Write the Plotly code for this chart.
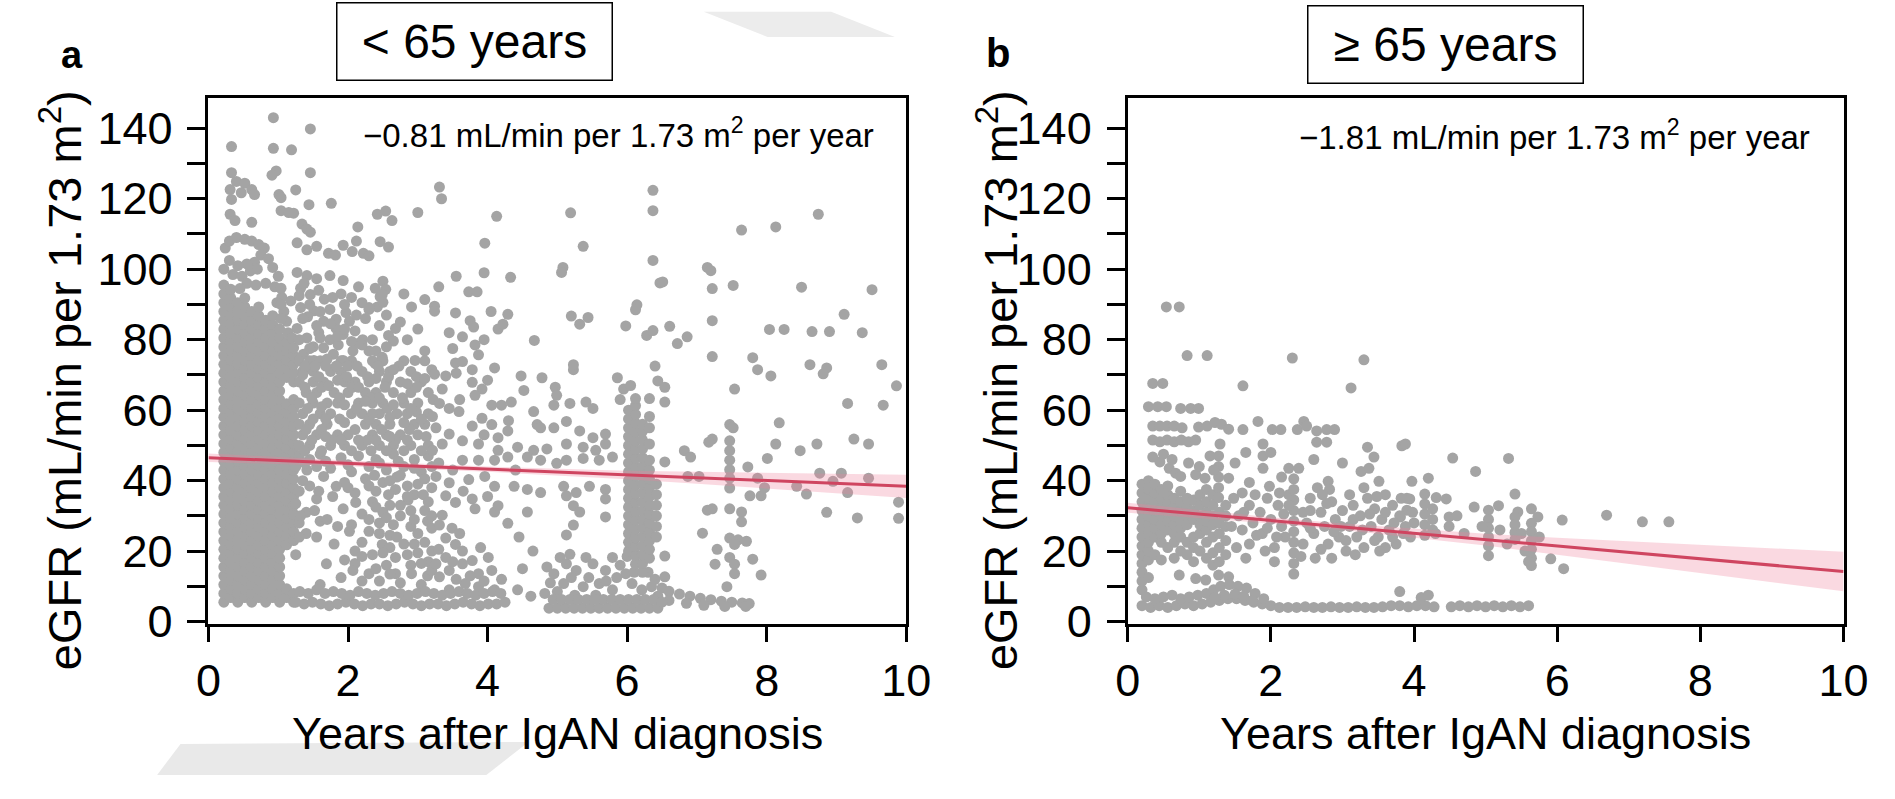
import plotly.graph_objects as go

W, H = 1895, 799

# ---------------- Panel a (< 65 years) ----------------
A_BLOCK_X = [0.22, 0.32, 0.42, 0.52, 0.62, 0.72, 0.82, 0.92, 1.02, 1.12, 1.22]
A_BLOCK_Y = [
    [5.5, 8, 10.5, 13, 15.5, 18, 20.5, 23, 25.5, 28, 30.5, 33, 35.5, 38, 40.5, 43, 45.5, 48, 50.5, 53, 55.5, 58, 60.5, 63, 65.5, 68, 70.5, 73, 75.5, 78, 80.5, 83, 85.5, 88, 90.5, 93, 95.5],
    [6.8, 9.3, 11.8, 14.3, 16.8, 19.3, 21.8, 24.3, 26.8, 29.3, 31.8, 34.3, 36.8, 39.3, 41.8, 44.3, 46.8, 49.3, 51.8, 54.3, 56.8, 59.3, 61.8, 64.3, 66.8, 69.3, 71.8, 74.3, 76.8, 79.3, 81.8, 84.3, 86.8, 89.3, 91.8, 94.3],
    [5.5, 8, 10.5, 13, 15.5, 18, 20.5, 23, 25.5, 28, 30.5, 33, 35.5, 38, 40.5, 43, 45.5, 48, 50.5, 53, 55.5, 58, 60.5, 63, 65.5, 68, 70.5, 73, 75.5, 78, 80.5, 83, 85.5, 88, 90.5],
    [6.8, 9.3, 11.8, 14.3, 16.8, 19.3, 21.8, 24.3, 26.8, 29.3, 31.8, 34.3, 36.8, 39.3, 41.8, 44.3, 46.8, 49.3, 51.8, 54.3, 56.8, 59.3, 61.8, 64.3, 66.8, 69.3, 71.8, 74.3, 76.8, 79.3, 81.8, 84.3, 86.8, 89.3, 91.8],
    [5.5, 8, 10.5, 13, 15.5, 18, 20.5, 23, 25.5, 28, 30.5, 33, 35.5, 38, 40.5, 43, 45.5, 48, 50.5, 53, 55.5, 58, 60.5, 63, 65.5, 68, 70.5, 73, 75.5, 78, 80.5, 83, 85.5, 88],
    [6.8, 9.3, 11.8, 14.3, 16.8, 19.3, 21.8, 24.3, 26.8, 29.3, 31.8, 34.3, 36.8, 39.3, 41.8, 44.3, 46.8, 49.3, 51.8, 54.3, 56.8, 59.3, 61.8, 64.3, 66.8, 69.3, 71.8, 74.3, 76.8, 79.3, 81.8, 84.3, 86.8, 89.3],
    [5.5, 8, 10.5, 13, 15.5, 18, 20.5, 23, 25.5, 28, 30.5, 33, 35.5, 38, 40.5, 43, 45.5, 48, 50.5, 53, 55.5, 58, 60.5, 63, 65.5, 68, 70.5, 73, 75.5, 78, 80.5, 83, 85.5],
    [6.8, 9.3, 11.8, 14.3, 16.8, 19.3, 21.8, 24.3, 26.8, 29.3, 31.8, 34.3, 36.8, 39.3, 41.8, 44.3, 46.8, 49.3, 51.8, 54.3, 56.8, 59.3, 61.8, 64.3, 66.8, 69.3, 71.8, 74.3, 76.8, 79.3, 81.8, 84.3, 86.8],
    [5.5, 8, 10.5, 13, 15.5, 18, 20.5, 23, 25.5, 28, 30.5, 33, 35.5, 38, 40.5, 43, 45.5, 48, 50.5, 53, 55.5, 58, 60.5, 63, 65.5, 68, 70.5, 73, 75.5, 78, 80.5, 83],
    [6.8, 9.3, 21.8, 24.3, 26.8, 29.3, 31.8, 34.3, 36.8, 39.3, 41.8, 44.3, 46.8, 49.3, 51.8, 54.3, 56.8, 59.3, 61.8, 69.3, 71.8, 74.3, 76.8, 79.3],
    [5.5, 8, 23, 25.5, 28, 30.5, 33, 35.5, 38, 40.5, 43, 45.5, 48, 50.5, 53, 55.5, 58, 60.5, 63, 68, 70.5, 73, 75.5],
]

A_TOP_PTS = [
    (0.93, 143.0), (1.46, 139.8), (0.33, 134.8), (0.93, 134.3), (1.19, 133.9), (0.33, 127.4), (0.97, 127.9),
    (0.91, 126.7), (1.46, 127.4), (0.40, 124.9), (0.52, 124.4), (0.62, 122.6), (0.31, 122.6), (0.47, 121.7),
    (0.66, 121.2), (0.33, 119.8), (1.25, 122.5), (1.01, 121.2), (1.04, 120.3), (1.44, 118.3), (1.76, 118.7),
    (1.04, 116.6), (1.15, 116.1), (1.22, 115.9), (0.31, 115.6), (0.38, 113.8), (0.62, 113.3), (1.34, 112.8),
    (1.41, 111.4), (1.46, 110.5), (2.14, 112.0), (2.42, 115.6), (2.54, 116.5), (2.63, 113.8), (3.00, 116.1),
    (0.24, 106), (0.30, 108), (0.40, 109), (0.52, 108.5), (0.62, 108), (0.72, 107), (0.80, 106), (0.75, 104),
    (0.66, 102), (0.55, 101.5), (0.42, 101), (0.30, 102.5), (0.22, 100), (0.35, 98.5), (0.48, 98), (0.60, 99.5),
    (0.70, 100), (0.86, 103), (0.92, 100.5), (1.00, 98), (0.82, 96), (0.95, 95), (0.55, 96), (0.68, 95.5),
    (0.45, 94.5), (1.05, 92), (0.98, 90.5), (1.08, 88),
    (1.27, 107.5), (1.41, 105.5), (1.55, 106.5), (1.72, 104.5), (1.82, 104), (1.93, 106.8), (2.06, 105),
    (2.12, 108), (2.22, 104.5), (2.30, 103.8), (2.46, 107.8), (2.58, 106.3),
    (1.27, 99.1), (1.41, 98.2), (1.55, 97.3), (1.74, 98.2), (1.93, 96.8), (2.50, 96.6), (2.54, 94.3),
    (2.46, 92.2), (2.05, 92), (2.30, 88.6), (2.42, 89.3), (2.50, 90.6), (2.91, 89.3), (3.10, 91.4), (3.24, 89.5),
    (2.68, 83.2), (2.58, 81.2), (2.65, 79.6), (2.40, 76.8), (3.10, 76.8),
    (1.32, 94.6), (1.46, 92.8), (1.18, 91.0), (1.32, 89.1), (1.51, 88.2), (1.74, 88.6), (1.83, 85.8),
    (1.97, 87.7), (2.39, 94.6), (2.49, 92.8), (2.30, 89.1), (1.65, 85.2), (1.83, 83.2), (2.02, 85.2),
    (1.93, 81.5), (1.27, 83.2), (1.41, 80.5), (1.22, 77.7), (1.36, 75.9), (1.51, 74.1), (1.65, 77.7),
    (1.79, 75.9), (1.93, 74.1), (2.07, 76.8), (2.30, 76.8), (2.49, 75.0), (2.39, 73.2), (2.75, 85.0),
    (2.96, 74.1), (2.21, 80.0), (1.04, 94.6), (1.04, 90), (1.12, 85.2), (1.14, 82), (1.20, 80.5), (1.04, 86),
]

A_MIDHI_PTS = [
    (1.30, 74), (1.45, 74), (1.60, 74), (1.90, 74), (2.05, 74), (2.35, 74), (2.50, 74), (2.80, 74), (3.10, 74),
    (1.35, 71), (1.50, 71), (1.75, 71), (1.90, 71), (2.20, 71), (2.45, 71), (2.60, 71), (2.90, 71),
    (1.30, 68), (1.50, 68), (1.65, 68), (1.95, 68), (2.10, 68), (2.30, 68), (2.55, 68), (2.75, 68), (3.05, 68),
    (1.40, 65), (1.55, 65), (1.80, 65), (2.00, 65), (2.25, 65), (2.40, 65), (2.65, 65), (2.90, 65), (3.15, 65),
    (1.30, 62), (1.50, 62), (1.70, 62), (1.85, 62), (2.15, 62), (2.35, 62), (2.50, 62), (2.80, 62), (3.00, 62),
    (1.35, 59), (1.60, 59), (1.75, 59), (2.05, 59), (2.20, 59), (2.45, 59), (2.70, 59), (2.85, 59),
    (1.30, 56), (1.45, 56), (1.70, 56), (2.25, 56), (2.40, 56), (2.60, 56), (2.95, 56), (3.10, 56),
    (1.35, 53), (1.55, 53), (1.85, 53), (2.00, 53), (2.35, 53), (2.55, 53), (2.75, 53), (3.00, 53),
    (1.30, 50), (1.45, 50), (1.75, 50), (1.95, 50), (2.20, 50), (2.45, 50), (2.65, 50), (2.90, 50), (3.15, 50),
]

A_MIDLO_PTS = [
    (1.30, 47), (1.45, 46), (1.60, 47.5), (1.90, 46.5), (2.15, 47), (2.40, 46), (2.65, 47.5), (2.95, 46), (3.15, 47),
    (1.25, 44), (1.41, 43), (1.75, 43.5), (2.05, 42.5), (2.30, 44), (2.55, 43), (2.80, 44), (3.05, 42.5),
    (1.35, 40), (1.65, 41.2), (1.95, 39.5), (2.25, 40.5), (2.50, 39.5), (2.70, 41), (3.00, 39),
    (1.30, 37), (1.83, 38.4), (2.10, 36.5), (2.40, 37), (2.68, 37.5), (2.95, 36), (3.20, 38),
    (1.55, 34.8), (1.25, 33.5), (2.11, 33.8), (2.35, 34), (2.60, 33), (2.86, 34.5),
    (1.40, 31), (1.93, 32.0), (2.20, 30.5), (2.50, 31), (2.75, 30), (3.10, 31.5),
    (1.30, 28), (1.60, 28.5), (2.05, 27.5), (2.45, 28), (2.90, 27), (3.14, 28.5),
    (1.40, 25), (2.02, 25.6), (2.30, 25.6), (2.60, 24.5), (3.00, 25),
    (1.30, 24), (2.49, 21.9), (2.20, 22.5), (2.80, 22), (3.10, 22.5),
    (1.25, 19), (2.68, 18.2), (2.35, 19), (3.00, 19.5),
    (1.69, 16.4), (2.10, 16.5), (2.55, 16), (2.90, 16), (3.15, 17),
    (2.07, 14.5), (2.30, 13.6), (2.68, 13.6), (2.91, 13.6), (3.14, 13), (1.90, 12.5), (2.45, 11.5),
]

A_FILL_PTS = [
    (1.37, 96), (1.58, 94), (1.66, 91.5), (1.90, 93), (2.15, 95), (2.20, 90.5), (1.42, 86.5), (1.58, 82),
    (1.74, 80), (2.10, 82.5), (2.25, 86), (2.45, 84), (1.50, 78), (1.86, 78.5), (2.00, 72.5), (2.20, 78.5),
    (2.55, 87), (2.85, 80), (3.00, 83), (2.80, 93),
    (1.38, 72.5), (1.53, 72.5), (1.68, 72.5), (1.83, 72.5), (1.98, 69.5), (2.13, 72.5), (2.28, 69.5),
    (2.43, 72.5), (2.58, 69.5), (2.73, 72.5), (2.98, 69.5), (3.20, 71.5),
    (1.38, 66.5), (1.62, 66.5), (1.88, 63.5), (2.06, 66.5), (2.33, 63.5), (2.53, 66.5), (2.78, 63.5),
    (2.98, 66.5), (3.22, 63), (1.42, 60.5), (1.88, 57.5), (2.12, 60.5), (2.30, 57.5), (2.56, 60.5),
    (2.98, 59.5), (3.15, 59), (1.40, 54.5), (1.62, 54.5), (1.77, 51.5), (2.10, 54.5), (2.28, 51.5),
    (2.48, 54.5), (2.68, 51.5), (2.88, 54.5), (3.12, 52.5), (1.38, 48.5), (1.62, 48.5), (2.05, 48.5),
    (2.33, 48.5), (2.55, 48.5), (2.80, 48.5), (3.05, 48.5),
    (1.38, 45), (1.55, 44), (1.68, 45.5), (2.00, 44.5), (2.45, 45), (2.72, 45.5), (3.20, 44),
    (1.45, 38.5), (1.58, 37), (1.78, 35.5), (2.00, 38), (2.30, 38.5), (2.58, 36), (2.85, 38.5), (3.08, 36),
    (1.32, 30), (1.52, 31.5), (1.70, 29), (1.85, 27), (2.30, 29), (2.65, 27.5), (2.90, 31.5), (3.20, 26.5),
    (1.55, 24), (1.80, 22), (2.10, 20), (2.60, 21), (2.95, 22), (3.20, 20), (1.95, 17.5), (2.40, 15),
    (2.75, 11), (3.05, 10.5), (1.60, 10.5), (2.20, 11.5),
    (3.30, 95), (3.55, 98), (3.95, 99), (3.45, 82), (3.95, 80), (4.05, 88), (3.35, 66), (3.60, 63),
    (3.55, 70.5), (4.00, 68.5), (4.30, 57), (3.95, 53), (3.30, 45), (3.50, 43), (4.40, 43), (4.00, 35.5), (3.65, 37),
]

A_FILL2_PTS = [
    (1.30, 92.5), (1.45, 90), (1.60, 88), (1.78, 92), (1.95, 90), (2.12, 87), (1.35, 86), (1.55, 84),
    (1.75, 84.5), (1.95, 83), (2.15, 79), (1.30, 80), (1.45, 77.5), (1.60, 80.5), (1.70, 74.5), (1.85, 81),
    (2.05, 79.5), (2.35, 80), (2.55, 78),
    (1.35, 70), (1.58, 69.5), (1.72, 67), (1.85, 68.5), (2.15, 66.5), (2.40, 69), (2.65, 71.5), (2.85, 67.5),
    (3.10, 69), (1.48, 63.5), (1.62, 61), (1.95, 61.5), (2.25, 62.5), (2.45, 63.5), (2.65, 61.5), (2.90, 60.5),
    (1.50, 57.5), (1.68, 57.5), (1.95, 56.5), (2.35, 59), (2.60, 58), (2.80, 56.5), (3.05, 57.5),
    (1.48, 51.5), (1.68, 52.5), (1.90, 51.5), (2.15, 51.5), (2.40, 51.5), (2.60, 52.5), (2.85, 51.5),
    (2.75, 41.5), (2.95, 43.5), (3.10, 40.5), (2.38, 41.5), (2.60, 40), (2.85, 35.5), (3.15, 34), (2.55, 29.5),
    (2.75, 33), (2.40, 32.5), (2.95, 29), (3.20, 30), (2.70, 24), (2.45, 25), (2.85, 19), (3.05, 16.5),
    (2.60, 13.5), (2.20, 18.5), (2.50, 19.5), (3.20, 14.5),
]

A_BAND_X = [1.25, 1.37, 1.49, 1.61, 1.73, 1.85, 1.97, 2.09, 2.21, 2.33, 2.45, 2.57, 2.69, 2.81, 2.93, 3.05,
            3.17, 3.29, 3.41, 3.53, 3.65, 3.77, 3.89, 4.01, 4.13, 4.25,
            1.31, 1.43, 1.55, 1.67, 1.79, 1.91, 2.03, 2.15, 2.27, 2.39, 2.51, 2.63, 2.75, 2.87, 2.99, 3.11,
            3.23, 3.35, 3.47, 3.59, 3.71, 3.83, 3.95, 4.07, 4.19]
A_BAND_Y = [5.5, 5, 5.5, 5, 4.5, 5, 5.5, 5, 4.5, 5, 5, 4.5, 5, 5.5, 5, 4.5,
            5, 5, 4.5, 5, 5.5, 5, 4.5, 5, 5, 5.5,
            8.5, 8, 9, 8, 8.5, 8, 7.5, 8.5, 8, 7.5, 8, 8.5, 8, 7.5, 8, 8.5,
            8, 7.5, 8, 8.5, 8, 7.5, 8, 8.5, 8]

A_R1_PTS = [
    (3.31, 123.3), (3.34, 120.0), (4.13, 115.0), (3.96, 107.4), (4.33, 97.7), (3.73, 93.6), (3.85, 93.6),
    (3.24, 88.1), (3.54, 87.6), (3.75, 85.4), (3.80, 83.6), (4.29, 87.2), (4.15, 83.0), (4.22, 84.4),
    (4.67, 79.8), (3.64, 80.8), (3.82, 78.5), (3.50, 77.5), (3.87, 75.7), (3.64, 73.8), (3.54, 73.4),
    (3.24, 70.2), (3.40, 69.7), (3.78, 71.5), (4.10, 72.0), (4.48, 69.7), (4.78, 69.2), (3.78, 67.9),
    (3.92, 66.0), (3.82, 64.2), (4.52, 65.6), (3.31, 61.9), (3.45, 60.5), (3.59, 59.6), (3.21, 58.2),
    (4.06, 61.4), (4.20, 61.4), (4.34, 62.3), (4.66, 59.6), (4.71, 55.9), (4.76, 55.0), (3.92, 57.7),
    (3.78, 55.5), (4.06, 55.9), (4.29, 54.1), (4.15, 52.2), (3.26, 55.0), (3.45, 53.2), (3.64, 51.3),
    (3.35, 50.4), (3.21, 48.6), (3.87, 50.4), (4.15, 48.6), (4.43, 49.5), (4.66, 48.6), (4.85, 49.0),
    (3.64, 45.8), (3.87, 45.8), (4.10, 45.8), (4.29, 46.7), (4.57, 46.7), (4.76, 45.8), (3.26, 41.2),
    (3.45, 39.4), (3.73, 40.3), (3.96, 41.2), (4.10, 38.4), (4.38, 38.4), (4.57, 37.5), (4.76, 36.6),
    (3.40, 35.7), (3.54, 33.8), (3.78, 34.8), (3.82, 32.0), (4.10, 31.1), (4.15, 32.9), (4.57, 31.1),
    (3.35, 30.2), (3.49, 26.5), (3.31, 27.4), (4.29, 27.9),
    (3.40, 23.7), (3.54, 21.9), (3.64, 20.0), (3.40, 18.2), (3.26, 16.4), (3.45, 14.5), (3.64, 16.4),
    (3.78, 17.3), (3.87, 13.6), (4.01, 18.2), (4.06, 14.5), (3.68, 10.8), (3.45, 9.0), (3.87, 9.9),
    (4.10, 9.0), (3.31, 12.7), (4.43, 9.0), (4.62, 7.2), (3.55, 12), (3.75, 13), (3.95, 11.5),
    (3.30, 20.5), (3.50, 17), (3.90, 21), (4.20, 12), (3.60, 25), (4.45, 24), (4.65, 20), (4.50, 15),
]

A_R2_PTS = [
    (4.97, 66.5), (4.99, 64.2), (5.23, 71.5), (5.86, 69.2), (6.40, 72.5), (6.44, 68.3), (4.95, 61.4),
    (5.18, 61.9), (5.41, 62.3), (5.51, 60.5), (4.95, 55.0), (5.13, 56.8), (5.32, 54.1), (5.51, 52.2),
    (5.69, 53.2), (5.13, 50.4), (5.37, 49.5), (5.55, 48.6), (5.69, 50.4), (5.79, 46.7), (4.99, 44.9),
    (5.13, 45.8), (5.37, 46.3), (5.60, 45.8), (5.09, 38.4), (5.27, 36.6), (5.46, 38.4), (5.69, 37.5),
    (5.13, 35.7), (5.23, 32.9), (5.32, 31.1), (5.69, 34.8), (5.69, 29.7), (5.23, 27.4), (5.13, 24.6),
    (5.19, 116.0), (6.37, 122.4), (6.37, 116.6), (5.37, 106.5), (6.37, 102.5), (5.08, 100.5), (5.06, 99.1),
    (6.47, 96.1), (6.14, 89.9), (6.12, 88.5), (5.20, 86.7), (5.32, 84.4), (5.44, 86.3), (5.98, 83.9),
    (6.28, 81.2), (6.37, 82.6), (5.23, 72.9), (5.95, 66), (5.90, 63), (6.05, 67),
]

A_COL_X = [6.02, 6.12, 6.22, 6.32, 6.42]
A_COL_Y = [
    [20, 22.5, 25, 27.5, 30, 32.5, 35, 37.5, 40, 42.5, 45, 47.5, 50, 52.5, 55, 57.5, 60],
    [16.3, 18.8, 21.3, 23.8, 26.3, 28.8, 31.3, 33.8, 36.3, 38.8, 41.3, 43.8, 46.3, 48.8, 51.3, 53.8, 56.3, 58.8, 61.3, 63.3],
    [14, 16.5, 19, 21.5, 24, 26.5, 29, 31.5, 34, 36.5, 39, 41.5, 44, 46.5, 49, 51.5, 54, 56],
    [18, 20.5, 23, 25.5, 28, 30.5, 33, 35.5, 38, 40.5, 43, 45.8, 50.4, 55.0, 58.2, 63.3],
    [24, 27, 30, 33, 36, 39],
]

A_BOT2_PTS = [
    (4.85, 15.5), (5.04, 18.2), (4.95, 13.6), (5.13, 16.4), (5.27, 14.5), (5.41, 18.2), (5.51, 16.4),
    (5.69, 14.5), (5.79, 18.2), (5.18, 19.1), (5.09, 10.8), (5.37, 9.9), (5.60, 10.8), (5.79, 9.0),
    (5.98, 13.6), (6.07, 10.8), (6.21, 9.0), (6.35, 9.9), (6.44, 7.2), (4.90, 11), (5.00, 8.5), (5.20, 12.5),
    (5.45, 12.5), (5.55, 7.5), (5.70, 11.5), (5.90, 16), (6.00, 18.5), (6.10, 14), (6.30, 14), (6.40, 12),
    (5.85, 12.5), (5.25, 7.5), (4.82, 8),
    (4.88, 3.8), (5.00, 3.8), (5.12, 3.8), (5.24, 3.8), (5.36, 3.8), (5.48, 3.8), (5.60, 3.8), (5.72, 3.8),
    (5.84, 3.8), (5.96, 3.8), (6.08, 3.8), (6.20, 3.8), (6.32, 3.8), (6.44, 3.8),
    (4.94, 6.3), (5.06, 6.3), (5.18, 6.3), (5.30, 6.3), (5.42, 6.3), (5.54, 6.3), (5.66, 6.3), (5.78, 6.3),
    (5.90, 6.3), (6.02, 6.3), (6.14, 6.3), (6.26, 6.3), (6.38, 6.3),
]

A_FAR_PTS = [
    (8.74, 115.6), (7.64, 111.1), (8.13, 112.0), (7.15, 100.5), (7.20, 99.6), (6.51, 96.4), (7.22, 94.5),
    (7.52, 95.4), (8.50, 94.9), (9.51, 94.2), (9.11, 87.2), (6.61, 83.8), (7.22, 85.4), (6.72, 78.9),
    (6.86, 80.8), (8.04, 82.9), (8.25, 82.9), (8.65, 82.3), (8.90, 82.3), (9.37, 82.0), (7.22, 75.2),
    (7.80, 74.9), (8.62, 72.9), (8.86, 72.0), (9.65, 72.9), (7.87, 71.5), (8.06, 69.7), (8.81, 70.3),
    (9.86, 66.9), (6.54, 66.5), (6.54, 62.3), (7.54, 66.0), (9.16, 61.9), (9.67, 61.4), (7.47, 55.9),
    (7.52, 55.0), (8.18, 56.4), (7.22, 51.8), (7.17, 50.9), (7.47, 51.3), (7.47, 48.5), (7.47, 45.8),
    (7.47, 43.1), (8.13, 50.4), (8.72, 50.4), (9.25, 51.8), (9.46, 50.4), (8.48, 48.5), (6.82, 48.5),
    (6.91, 46.7), (6.54, 45.3), (8.01, 46.3), (7.73, 43.9), (6.87, 41.2), (7.03, 41.2), (7.47, 40.7),
    (7.47, 37.9), (7.87, 40.7), (8.76, 42.1), (9.07, 42.1), (8.95, 39.8), (9.46, 40.7), (7.76, 35.7),
    (7.92, 35.7), (7.97, 38.0), (8.43, 38.4), (8.57, 36.2), (9.16, 36.6), (9.89, 33.9), (7.15, 31.6),
    (7.22, 32.0), (7.47, 32.0), (7.64, 31.1), (7.64, 28.3), (8.86, 31.0), (9.30, 29.4), (9.89, 29.3),
    (7.08, 25.1), (7.47, 23.7), (7.59, 23.2), (7.71, 22.8), (7.54, 21.9), (7.29, 20.5), (7.26, 16.3),
    (7.47, 18.2), (7.54, 16.3), (7.54, 13.6), (7.80, 17.7), (7.92, 13.2), (7.43, 9.9), (6.54, 18.6),
    (6.54, 12.7),
    (6.50, 9.5), (6.60, 8.6), (6.75, 7.8), (6.90, 7.2), (7.05, 6.6), (7.20, 6.2), (7.35, 5.8), (7.50, 5.5),
    (7.65, 5.3), (7.75, 5.1), (6.60, 6.0), (6.85, 5.2), (7.10, 4.6), (7.40, 4.3), (7.70, 4.3), (6.50, 5.5),
]

A_FIT_X = [0, 10]
A_FIT_Y = [46.5, 38.4]
A_CI_X = [0, 2, 4, 6, 7, 8, 9, 10]
A_CI_UP = [47.7, 45.7, 44.0, 42.8, 42.5, 42.2, 42.0, 41.7]
A_CI_LO = [45.3, 44.1, 42.5, 40.4, 39.1, 37.8, 36.4, 35.1]

# ---------------- Panel b (>= 65 years) ----------------
B_BLOCK_X = [0.20, 0.29, 0.38, 0.47, 0.56, 0.65, 0.74, 0.83, 0.92, 1.01, 1.10, 1.19, 1.28, 1.37]
B_BLOCK_Y = [
    [9, 11.5, 14, 16.5, 19, 21.5, 24, 26.5, 29, 31.5, 34, 36.5, 39],
    [12.5, 17.5, 20, 22.5, 25, 27.5, 30, 32.5, 35, 37.5, 40],
    [19, 24, 26.5, 29, 31.5, 34, 36.5, 39],
    [17.5, 22.5, 25, 27.5, 30, 32.5, 35, 37.5],
    [21, 26, 28.5, 31, 33.5, 36, 38.5],
    [18, 22.5, 25, 27.5, 30, 32.5, 35],
    [20, 24, 26.5, 29, 31.5, 34, 37],
    [19, 22.5, 27.5, 30, 32.5, 35],
    [17, 21, 24, 29, 31.5, 34.5],
    [20, 25, 27.5, 30, 33, 36],
    [18, 22.5, 26, 28.5, 31, 34, 37.5],
    [16, 19.5, 24, 27.5, 30, 33, 36],
    [17, 21, 25, 28, 31],
    [19, 23, 27, 30, 33],
]

B_UPPER_PTS = [
    (0.54, 89.3), (0.72, 89.3), (0.83, 75.5), (1.11, 75.5), (2.30, 74.8), (3.30, 74.3), (1.61, 66.9),
    (3.12, 66.3), (0.35, 67.6), (0.49, 67.6),
    (0.29, 61), (0.42, 61), (0.54, 61), (0.74, 60.5), (0.88, 60.5), (0.99, 60.5),
    (0.35, 55.5), (0.45, 55.5), (0.55, 55.5), (0.65, 55.5), (0.76, 55), (0.99, 55.2), (1.11, 55.5),
    (1.22, 56.5), (1.31, 56), (1.41, 54.6), (1.61, 54.5), (1.82, 56.8), (2.02, 54.5), (2.14, 54.5),
    (2.37, 54.5), (2.46, 56.8), (2.50, 55.5), (2.64, 54.1), (2.78, 54.5), (2.89, 54.5), (2.64, 50.9), (2.78, 50.9),
    (0.35, 51.5), (0.45, 51), (0.55, 51.5), (0.65, 51), (0.75, 51.5), (0.85, 51), (0.95, 51.5), (1.29, 50.4), (1.89, 50.4),
    (0.35, 46.7), (0.45, 45.3), (0.58, 43.5), (0.67, 42.1), (0.74, 41.2), (0.95, 41.7), (1.08, 40.7),
    (1.27, 47), (1.27, 44), (1.27, 41), (1.27, 38), (1.27, 35.2), (1.89, 47), (1.89, 43.5),
    (2.25, 43.5), (2.39, 43.5), (1.41, 40.7), (1.98, 38.4), (2.80, 39.8), (2.82, 37.5), (3.35, 49.5),
    (3.44, 46.7), (3.26, 42.6), (3.37, 43.5), (3.51, 39.8), (3.83, 49.9),
    (3.88, 50.4), (4.54, 46.4), (5.32, 46.3), (4.86, 42.6), (3.97, 39.8), (4.20, 40.7), (5.41, 36.2),
    (3.94, 34.8), (4.15, 36.2), (4.31, 35.2), (4.45, 34.8), (4.84, 32.5), (5.18, 32.9), (5.45, 31.1),
    (5.64, 32.0), (5.73, 29.7), (6.07, 28.8), (6.69, 30.2), (7.19, 28.3), (7.56, 28.3),
]

B_MID_PTS = [
    (4.15, 33.4), (4.15, 30.5), (4.15, 27.5), (4.15, 24.5), (4.26, 32), (4.26, 29), (4.26, 26),
    (4.49, 29.7), (4.49, 27), (5.04, 31.6), (5.04, 29), (5.04, 26.5), (5.04, 24), (5.04, 21.5), (5.04, 18.7),
    (5.41, 29.7), (5.41, 27.5), (5.41, 25.3), (5.41, 23.3), (5.64, 27.9), (5.64, 25.5), (5.64, 23),
    (5.64, 20.5), (5.64, 18), (5.64, 15.9), (5.91, 17.8), (6.09, 15.0), (3.81, 29.7), (3.90, 31.6),
    (0.72, 13.2), (0.95, 12.2), (1.09, 11.8), (1.27, 13.2), (1.41, 12.7),
    (1.55, 30), (1.60, 26), (1.70, 33), (1.75, 28), (1.70, 22), (1.85, 31), (1.88, 25), (1.95, 35),
    (2.00, 29), (2.05, 21), (2.10, 33), (2.15, 27), (2.20, 24), (2.25, 36), (2.45, 22), (2.50, 28),
    (2.55, 35), (2.60, 25), (2.62, 18), (2.70, 31), (2.75, 27), (2.80, 22), (2.85, 34), (2.90, 29),
    (2.95, 24), (3.00, 31.5), (3.05, 20), (3.10, 27), (3.15, 33), (3.20, 24), (3.25, 30), (3.30, 21),
    (3.35, 35), (3.40, 27), (3.45, 32), (3.50, 24), (3.55, 29), (3.60, 36), (3.65, 26), (3.70, 33),
    (3.75, 22), (3.80, 30), (3.85, 25), (3.90, 35),
    (2.32, 40.5), (2.32, 37.5), (2.32, 34.5), (2.32, 31.5), (2.32, 28.5), (2.32, 25.5), (2.32, 22.5),
    (2.32, 19.5), (2.32, 16.5), (2.32, 13.5),
    (4.00, 28), (4.30, 25), (4.60, 30), (4.70, 25), (4.95, 27), (5.20, 26), (5.30, 22), (5.50, 25),
    (5.55, 20), (5.75, 24), (5.60, 17),
    (1.48, 35), (1.62, 31), (1.78, 36), (1.95, 26.5), (2.08, 24), (2.18, 30.5), (2.45, 31), (2.55, 26.5),
    (2.70, 20.5), (2.78, 33.5), (2.98, 27), (3.15, 29), (3.28, 26), (3.48, 35.5), (3.60, 31), (3.72, 28),
    (3.82, 35), (3.95, 24), (3.60, 21), (3.30, 38), (3.10, 36), (2.65, 38), (2.15, 41), (1.70, 39.5),
    (1.50, 45), (1.65, 48), (2.00, 48), (2.60, 46), (3.00, 45), (0.50, 47.5), (0.62, 46), (0.85, 45),
    (1.00, 44), (1.15, 47), (1.20, 43),
    (1.52, 21), (1.65, 18), (1.80, 24.5), (1.92, 20), (2.05, 17), (2.12, 36.5), (2.42, 18.5), (2.55, 31.5),
    (2.72, 36), (2.88, 25.5), (3.05, 23), (3.18, 19), (3.38, 30.5), (3.52, 20), (3.70, 24), (3.88, 27),
    (3.98, 31), (1.45, 27), (1.60, 36.5), (2.85, 18), (3.45, 23), (2.25, 33),
]

B_BAND_X = [0.20, 0.32, 0.44, 0.56, 0.68, 0.80, 0.92, 1.04, 1.16, 1.28, 1.40, 1.52, 1.64, 1.76, 1.88,
            2.00, 2.12, 2.24, 2.36, 2.48, 2.60, 2.72, 2.84, 2.96, 3.08, 3.20, 3.32, 3.44, 3.56, 3.68,
            3.80, 3.92, 4.04, 4.16, 4.28, 4.52, 4.64, 4.76, 4.88, 5.00, 5.12, 5.24, 5.36, 5.48, 5.60,
            0.26, 0.38, 0.50, 0.62, 0.74, 0.86, 0.98, 1.10,
            1.20, 1.30, 1.42, 1.54, 1.66, 1.78, 1.90, 1.35, 1.50, 1.62, 1.22, 1.74,
            3.80, 4.10, 4.20]
B_BAND_Y = [4.5, 4, 4.5, 4, 4.5, 5, 4.5, 5, 5.5, 6, 6.5, 6.5, 6, 5.5, 5,
            4.5, 4, 4, 4, 4.2, 4, 4, 4.2, 4, 4, 4.2, 4, 4, 4.2, 4.5,
            4.5, 4.2, 4.5, 4.5, 4.2, 4.2, 4.5, 4.2, 4.5, 4.2, 4.5, 4.2, 4.5, 4.2, 4.5,
            7, 6.5, 7, 7.5, 6.5, 7, 7.5, 8,
            9, 10, 10.5, 10, 9.5, 8, 6.5, 7.5, 7.8, 7.2, 6.8, 6,
            8.5, 6.8, 7.5]

B_FIT_X = [0, 10]
B_FIT_Y = [32.3, 14.2]
B_CI_X = [0, 1, 2, 3, 4, 5, 6, 7, 8, 9, 10]
B_CI_UP = [33.7, 31.6, 29.6, 27.8, 26.3, 24.9, 23.8, 22.8, 21.8, 20.8, 19.8]
B_CI_LO = [30.9, 29.4, 27.8, 26.0, 23.9, 21.6, 19.0, 16.4, 13.8, 11.2, 8.6]

Y_TICKS = [0, 20, 40, 60, 80, 100, 120, 140]
X_TICKS = [0, 2, 4, 6, 8, 10]

TITLE_A = "&lt; 65 years"
TITLE_B = "≥ 65 years"
SLOPE_A = "−0.81 mL/min per 1.73 m<sup>2</sup> per year"
SLOPE_B = "−1.81 mL/min per 1.73 m<sup>2</sup> per year"
Y_TITLE = "eGFR (mL/min per 1.73 m<sup>2</sup>)"
X_TITLE = "Years after IgAN diagnosis"


def gather(block_x, block_y, *pt_lists, extra_x=(), extra_y=()):
    xs, ys = [], []
    for cx, col in zip(block_x, block_y):
        for v in col:
            xs.append(cx)
            ys.append(v)
    for pts in pt_lists:
        for px_, py_ in pts:
            xs.append(px_)
            ys.append(py_)
    xs.extend(extra_x)
    ys.extend(extra_y)
    return xs, ys


ax_x, ax_y = gather(A_BLOCK_X, A_BLOCK_Y, A_TOP_PTS, A_MIDHI_PTS, A_MIDLO_PTS, A_FILL_PTS, A_FILL2_PTS,
                    A_R1_PTS, A_R2_PTS, A_BOT2_PTS, A_FAR_PTS, extra_x=A_BAND_X, extra_y=A_BAND_Y)
cx_x, cx_y = gather(A_COL_X, A_COL_Y)
ax_x += cx_x
ax_y += cx_y
bx_x, bx_y = gather(B_BLOCK_X, B_BLOCK_Y, B_UPPER_PTS, B_MID_PTS, extra_x=B_BAND_X, extra_y=B_BAND_Y)

FONT = "Arial, Liberation Sans, sans-serif"
PT_COLOR = "#a4a4a4"
LINE_COLOR = "#cf4560"
BAND_COLOR = "rgba(238,130,155,0.30)"
MS = 11

fig = go.Figure()


def add_panel(xs, ys, cix, ciu, cil, fx, fy, xa, ya):
    fig.add_trace(go.Scatter(x=xs, y=ys, mode="markers", xaxis=xa, yaxis=ya,
                             marker=dict(size=MS, color=PT_COLOR, line=dict(width=0)),
                             showlegend=False, hoverinfo="skip"))
    fig.add_trace(go.Scatter(x=cix, y=cil, mode="lines", line=dict(width=0), xaxis=xa, yaxis=ya,
                             showlegend=False, hoverinfo="skip"))
    fig.add_trace(go.Scatter(x=cix, y=ciu, mode="lines", line=dict(width=0), fill="tonexty",
                             fillcolor=BAND_COLOR, xaxis=xa, yaxis=ya, showlegend=False, hoverinfo="skip"))
    fig.add_trace(go.Scatter(x=fx, y=fy, mode="lines", line=dict(color=LINE_COLOR, width=3),
                             xaxis=xa, yaxis=ya, showlegend=False, hoverinfo="skip"))


add_panel(ax_x, ax_y, A_CI_X, A_CI_UP, A_CI_LO, A_FIT_X, A_FIT_Y, "x", "y")
add_panel(bx_x, bx_y, B_CI_X, B_CI_UP, B_CI_LO, B_FIT_X, B_FIT_Y, "x2", "y2")

Y_BOT, Y_TOP = 643, 101
ydom = [1 - Y_BOT / H, 1 - Y_TOP / H]
A_L, A_R = 199.5, 911.5
B_L, B_R = 1137.5, 1868

common_x = dict(range=[0, 10], tickvals=X_TICKS, ticks="outside", ticklen=15, tickwidth=2.5,
                tickcolor="black", showline=True, linecolor="black", linewidth=3, mirror=True,
                showgrid=False, zeroline=False, tickfont=dict(family=FONT, size=45, color="black"),
                ticklabelstandoff=0)
common_y = dict(range=[-0.6, 148.6], tickvals=Y_TICKS, ticks="outside", ticklen=18, tickwidth=2.5,
                tickcolor="black", showline=True, linecolor="black", linewidth=3, mirror=True,
                showgrid=False, zeroline=False, tickfont=dict(family=FONT, size=45, color="black"),
                minor=dict(dtick=10, ticks="outside", ticklen=18, tickwidth=2.5, tickcolor="black"),
                ticklabelstandoff=6, domain=ydom)

fig.update_layout(
    width=W, height=H, margin=dict(l=0, r=0, t=0, b=0),
    paper_bgcolor="white", plot_bgcolor="white",
    font=dict(family=FONT, color="black"),
    xaxis=dict(domain=[A_L / W, A_R / W], anchor="y", **common_x),
    yaxis=dict(anchor="x", **common_y),
    xaxis2=dict(domain=[B_L / W, B_R / W], anchor="y2", **common_x),
    yaxis2=dict(anchor="x2", **common_y),
)


def px(x):
    return x / W


def py(y):
    return 1 - y / H


annots = [
    dict(x=px(471), y=py(43), text=TITLE_A, font=dict(size=48), width=274, height=76,
         bordercolor="black", borderwidth=1.5, borderpad=0, bgcolor="white"),
    dict(x=px(1462), y=py(46), text=TITLE_B, font=dict(size=48), width=274, height=76,
         bordercolor="black", borderwidth=1.5, borderpad=0, bgcolor="white"),
    dict(x=px(60), y=py(57), text="<b>a</b>", font=dict(size=38)),
    dict(x=px(1005), y=py(55), text="<b>b</b>", font=dict(size=40)),
    dict(x=px(881), y=py(137), text=SLOPE_A, font=dict(size=33), xanchor="right"),
    dict(x=px(1836), y=py(139), text=SLOPE_B, font=dict(size=33), xanchor="right"),
    dict(x=px(49), y=py(392), text=Y_TITLE, font=dict(size=47), textangle=-90),
    dict(x=px(1005), y=py(392), text=Y_TITLE, font=dict(size=47), textangle=-90),
    dict(x=px((A_L + A_R) / 2), y=py(756), text=X_TITLE, font=dict(size=45)),
    dict(x=px((B_L + B_R) / 2), y=py(756), text=X_TITLE, font=dict(size=45)),
]
for a in annots:
    a.setdefault("xanchor", "center")
    a.update(xref="paper", yref="paper", showarrow=False, yanchor="middle")
    a["font"] = dict(family=FONT, color="black", **a["font"])
fig.update_layout(annotations=annots)

fig.update_layout(shapes=[
    dict(type="path", xref="paper", yref="paper", layer="below", line=dict(width=0), fillcolor="#ececec",
         path="M 0.372 0.985 L 0.4406 0.985 L 0.4749 0.9524 L 0.4063 0.9524 Z"),
    dict(type="path", xref="paper", yref="paper", layer="below", line=dict(width=0), fillcolor="#e9e9e9",
         path="M 0.0776 0 L 0.0902 0.0401 L 0.2776 0.0426 L 0.2549 0 Z"),
])

fig.write_html("out.html")
